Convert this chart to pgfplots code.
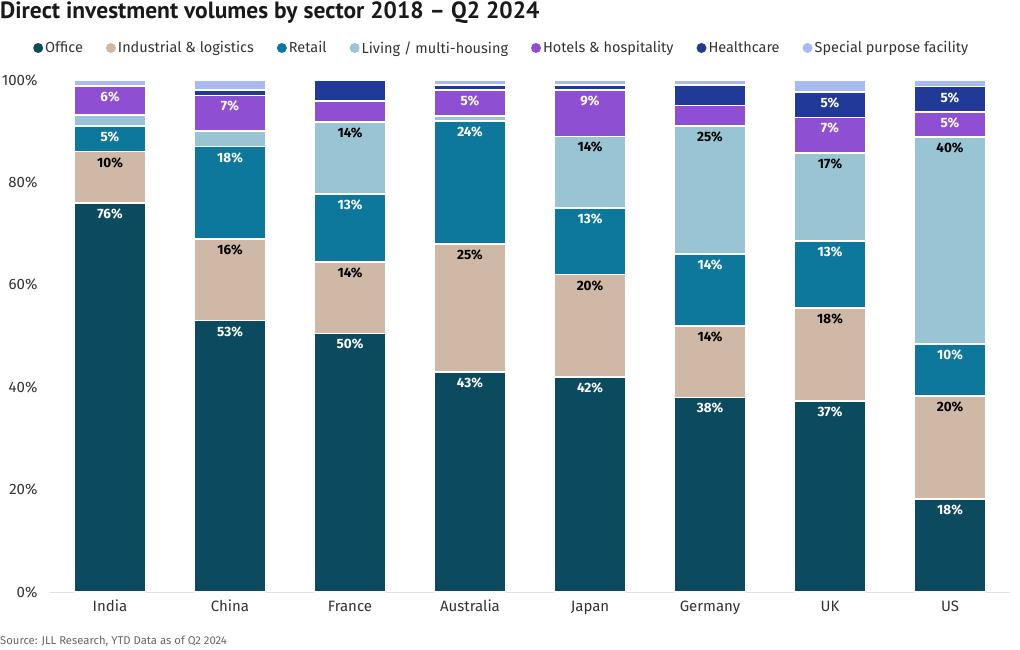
\documentclass[border=0pt]{standalone}
\usepackage{pgfplots}
\pgfplotsset{compat=1.18}
\usepackage{fontspec}
\setmainfont{Fira Sans}
\newfontfamily\titlefont{PT Sans}
\definecolor{office}{HTML}{0B4A5F}
\definecolor{indus}{HTML}{D0B8A6}
\definecolor{retail}{HTML}{0E779C}
\definecolor{living}{HTML}{98C4D3}
\definecolor{hotels}{HTML}{8E4FD3}
\definecolor{health}{HTML}{223A97}
\definecolor{spf}{HTML}{A9BAF0}
\definecolor{txt}{HTML}{333333}
\begin{document}
\begin{tikzpicture}[x=1pt,y=1pt]
\path[use as bounding box] (0,0) rectangle (1020,650);
\node[anchor=west,font=\titlefont\bfseries\fontsize{23.5}{27}\selectfont,text=black!90,inner sep=0pt] at (0,637) {Direct investment volumes by sector 2018 – Q2 2024};
\node[anchor=west,font=\fontsize{11.3}{13}\selectfont,text=black!60,inner sep=0pt] at (0,9) {Source: JLL Research, YTD Data as of Q2 2024};
\begin{axis}[
  at={(50pt,58pt)}, anchor=south west,
  width=960pt, height=512pt, scale only axis,
  ybar stacked, bar width=71pt,
  xmin=-0.5, xmax=7.5, ymin=0, ymax=100,
  xtick={0,...,7},
  xticklabels={India,China,France,Australia,Japan,Germany,UK,US},
  ytick={0,20,...,100},
  yticklabel={\pgfmathprintnumber{\tick}\%},
  axis x line*=bottom, axis y line*=left,
  y axis line style={draw=none},
  x axis line style={draw=black!12, line width=0.8pt},
  major tick length=0pt,
  ticklabel style={font=\fontsize{15}{17}\selectfont, text=txt},
  yticklabel style={xshift=-9pt},
  xticklabel style={yshift=-5pt, text height=11pt, text depth=3pt},
  tick label style={/pgf/number format/assume math mode=true},
  clip=false,
  every axis plot/.append style={draw=white, line width=1.6pt},
  point meta=explicit symbolic,
  visualization depends on={rawy \as \myval},
  nodes near coords,
  every node near coord/.append style={anchor=north, inner sep=0pt, yshift={\myval*2.56pt-5pt}, font=\bfseries\fontsize{13.5}{15}\selectfont},
  legend style={at={(0,1)}, anchor=west, xshift=-20pt, yshift=32pt, draw=none, fill=none,
    font=\fontsize{14.5}{16}\selectfont, text=txt,
    /tikz/every even column/.append style={column sep=21pt},
    nodes={inner xsep=2pt}},
  legend columns=-1,
  legend image code/.code={\fill[#1,draw=none] (5pt,0pt) circle (5pt);},
]
\addplot[fill=office, every node near coord/.append style={text=white}] coordinates {
 (0,76)[76\%] (1,53)[53\%] (2,50.5)[50\%] (3,43)[43\%] (4,42)[42\%] (5,38)[38\%] (6,37.3)[37\%] (7,18.2)[18\%]};
\addplot[fill=indus, every node near coord/.append style={text=black}] coordinates {
 (0,10)[10\%] (1,16)[16\%] (2,14)[14\%] (3,25)[25\%] (4,20)[20\%] (5,14)[14\%] (6,18.2)[18\%] (7,20.1)[20\%]};
\addplot[fill=retail, every node near coord/.append style={text=white}] coordinates {
 (0,5)[5\%] (1,18)[18\%] (2,13.2)[13\%] (3,24)[24\%] (4,13)[13\%] (5,14)[14\%] (6,13.1)[13\%] (7,10.1)[10\%]};
\addplot[fill=living, every node near coord/.append style={text=black}] coordinates {
 (0,2.2)[\relax] (1,3)[\relax] (2,14.1)[14\%] (3,1)[\relax] (4,14)[14\%] (5,25)[25\%] (6,17.1)[17\%] (7,40.5)[40\%]};
\addplot[fill=hotels, every node near coord/.append style={text=white}] coordinates {
 (0,5.6)[6\%] (1,7)[7\%] (2,4.1)[\relax] (3,5)[5\%] (4,9)[9\%] (5,4)[\relax] (6,7)[7\%] (7,4.9)[5\%]};
\addplot[fill=health, every node near coord/.append style={text=white}] coordinates {
 (0,0)[\relax] (1,1)[\relax] (2,4.1)[\relax] (3,1)[\relax] (4,1)[\relax] (5,4)[\relax] (6,5)[5\%] (7,4.9)[5\%]};
\addplot[fill=spf, every node near coord/.append style={text=white}] coordinates {
 (0,1.2)[\relax] (1,2)[\relax] (2,0)[\relax] (3,1)[\relax] (4,1)[\relax] (5,1)[\relax] (6,2.3)[\relax] (7,1.3)[\relax]};
\legend{Office,Industrial \& logistics,Retail,Living / multi-housing,Hotels \& hospitality,Healthcare,Special purpose facility}
\end{axis}
\end{tikzpicture}
\end{document}
